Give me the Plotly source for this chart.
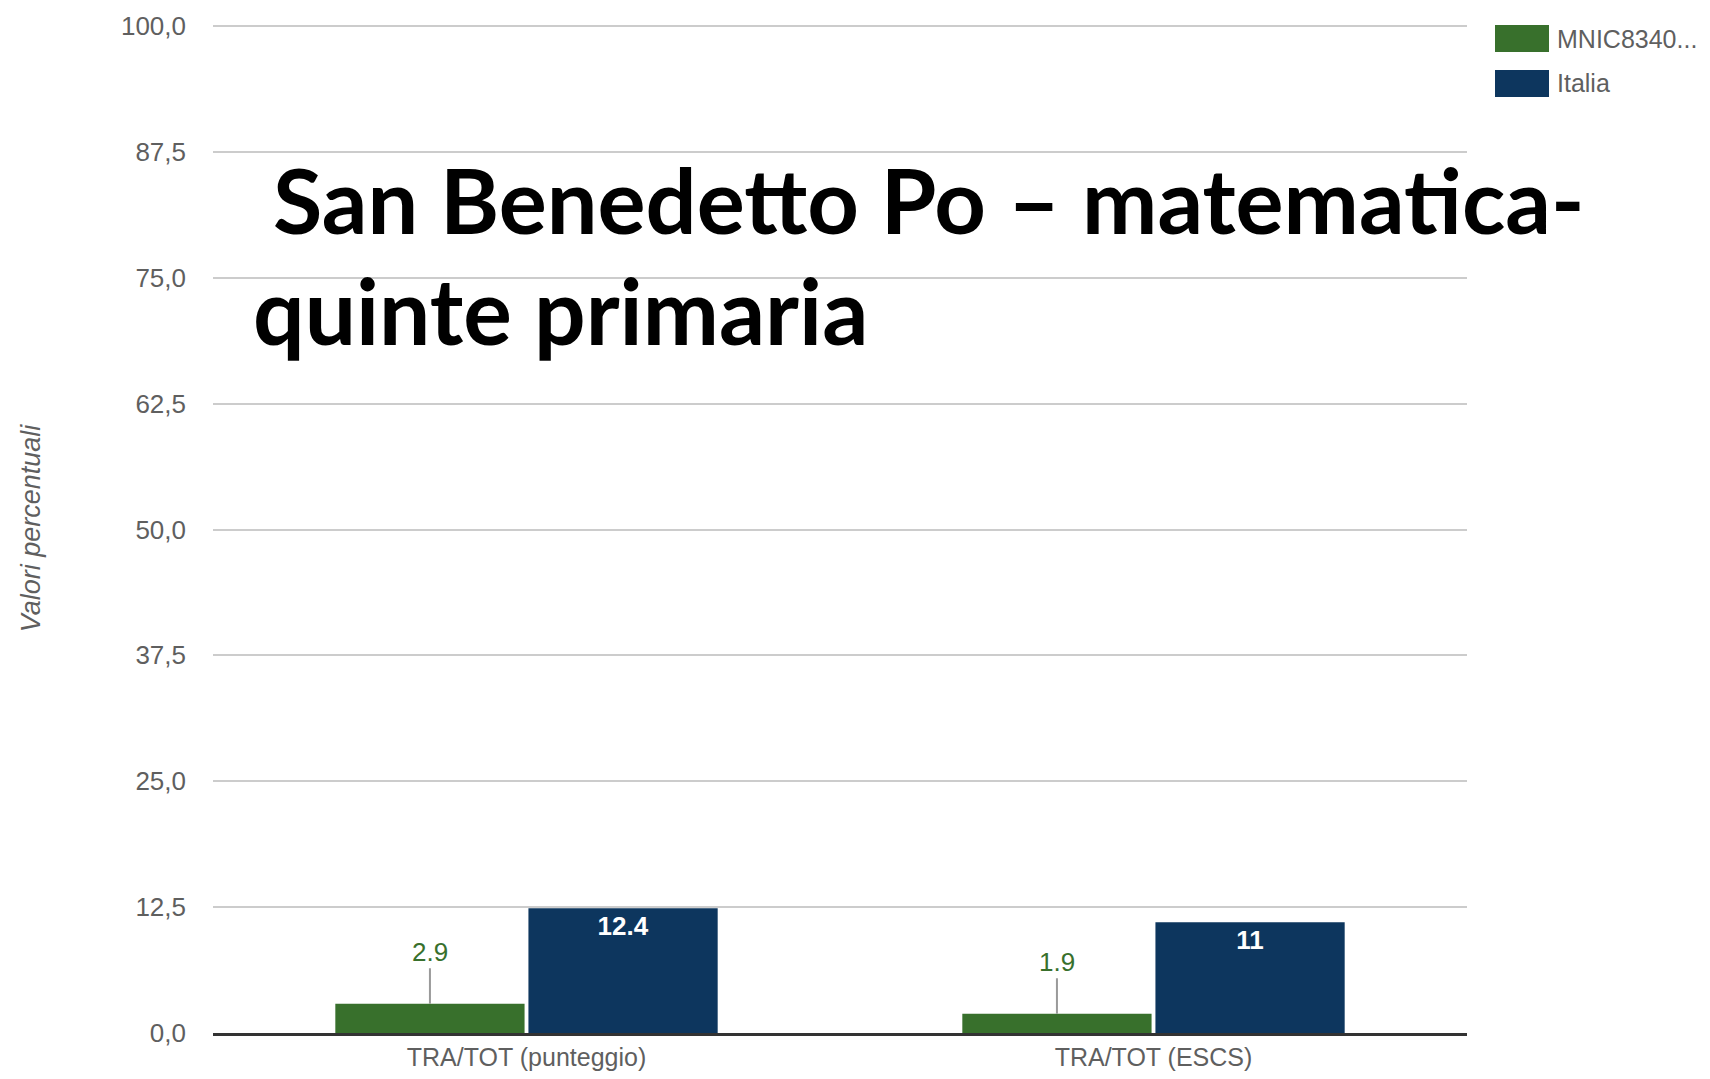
import plotly.graph_objects as go

# ---------------- data ----------------
categories = ["TRA/TOT (punteggio)", "TRA/TOT (ESCS)"]
series_names = ["MNIC8340...", "Italia"]
school_values = [2.9, 1.9]
italy_values = [12.4, 11.0]
school_labels = ["2.9", "1.9"]
italy_labels = ["12.4", "11"]
ytick_vals = [0, 12.5, 25, 37.5, 50, 62.5, 75, 87.5, 100]
ytick_text = ["0,0", "12,5", "25,0", "37,5", "50,0", "62,5", "75,0", "87,5", "100,0"]
title_lines = ["San Benedetto Po – matematica-", "quinte primaria"]
yaxis_title = "Valori percentuali"

# ---------------- style ----------------
GREEN = "#38702c"
BLUE = "#0d365e"
OFF = 8                      # default page body margin
FW, FH = 1710 - 2 * OFF, 1079 - 2 * OFF
L, R, T, B = 205, 235, 16, 38
YMAX = 100.2
BARGAP = 0.384
GROUPGAP = 0.02
FONT = "Liberation Sans, Arial, sans-serif"
GREY = "#5f5f5f"


def px_x(px):
    return (px - OFF - L) / (FW - L - R)


def px_y(py):
    return (FH - B - (py - OFF)) / (FH - T - B)


fig = go.Figure()
fig.add_trace(go.Bar(
    name=series_names[0], x=categories, y=school_values,
    marker=dict(color=GREEN, line=dict(width=0)),
    showlegend=False, hoverinfo="x+y",
))
fig.add_trace(go.Bar(
    name=series_names[1], x=categories, y=italy_values,
    marker=dict(color=BLUE, line=dict(width=0)),
    text=italy_labels, textposition="inside", insidetextanchor="end",
    textangle=0, constraintext="none",
    insidetextfont=dict(color="white", size=26, family=FONT, weight="bold"),
    showlegend=False, hoverinfo="x+y",
))

# green value labels with leader lines
slot = (1 - BARGAP) / 2
for i, (v, lab) in enumerate(zip(school_values, school_labels)):
    fig.add_annotation(
        x=i - slot / 2, y=v, xref="x", yref="y", text=lab,
        showarrow=True, arrowhead=0, arrowwidth=2, arrowcolor="#9a9a9a",
        ax=0, ay=-52, standoff=0,
        font=dict(color=GREEN, size=26, family=FONT),
    )

# custom legend
colors = [GREEN, BLUE]
leg_y = [25, 70]
for name, c, y0 in zip(series_names, colors, leg_y):
    fig.add_shape(type="rect", xref="paper", yref="paper",
                  x0=px_x(1495), x1=px_x(1549), y0=px_y(y0 + 27), y1=px_y(y0),
                  fillcolor=c, line=dict(width=0))
    fig.add_annotation(xref="paper", yref="paper", x=px_x(1555), y=px_y(y0 + 13.5),
                       xanchor="left", yanchor="middle", text=name, showarrow=False,
                       font=dict(color=GREY, size=25, family=FONT))

# overlaid big title
fig.add_annotation(xref="paper", yref="paper", x=px_x(271), y=px_y(199),
                   xanchor="left", yanchor="middle", text=title_lines[0], showarrow=False,
                   font=dict(color="black", size=90, family="Lato", weight="bold"))
fig.add_annotation(xref="paper", yref="paper", x=px_x(251), y=px_y(309),
                   xanchor="left", yanchor="middle", text=title_lines[1], showarrow=False,
                   font=dict(color="black", size=91, family="Lato", weight="bold"))

fig.update_layout(
    width=FW, height=FH,
    margin=dict(l=L, r=R, t=T, b=B, autoexpand=False),
    paper_bgcolor="white", plot_bgcolor="white",
    barmode="group", bargap=BARGAP, bargroupgap=GROUPGAP,
    font=dict(family=FONT, color=GREY, size=26),
    xaxis=dict(showline=True, linecolor="#333333", linewidth=3, ticks="",
               showgrid=False, zeroline=False,
               tickfont=dict(size=25, color=GREY), ticklabelstandoff=0),
    yaxis=dict(range=[0, YMAX], tickvals=ytick_vals, ticktext=ytick_text,
               showgrid=True, gridcolor="#cccccc", gridwidth=2,
               zeroline=False, showline=False, ticks="",
               tickfont=dict(size=26, color=GREY), ticklabelstandoff=26,
               title=dict(text=yaxis_title, standoff=72,
                          font=dict(size=27, color=GREY, style="italic"))),
)

fig.write_html("out.html")
